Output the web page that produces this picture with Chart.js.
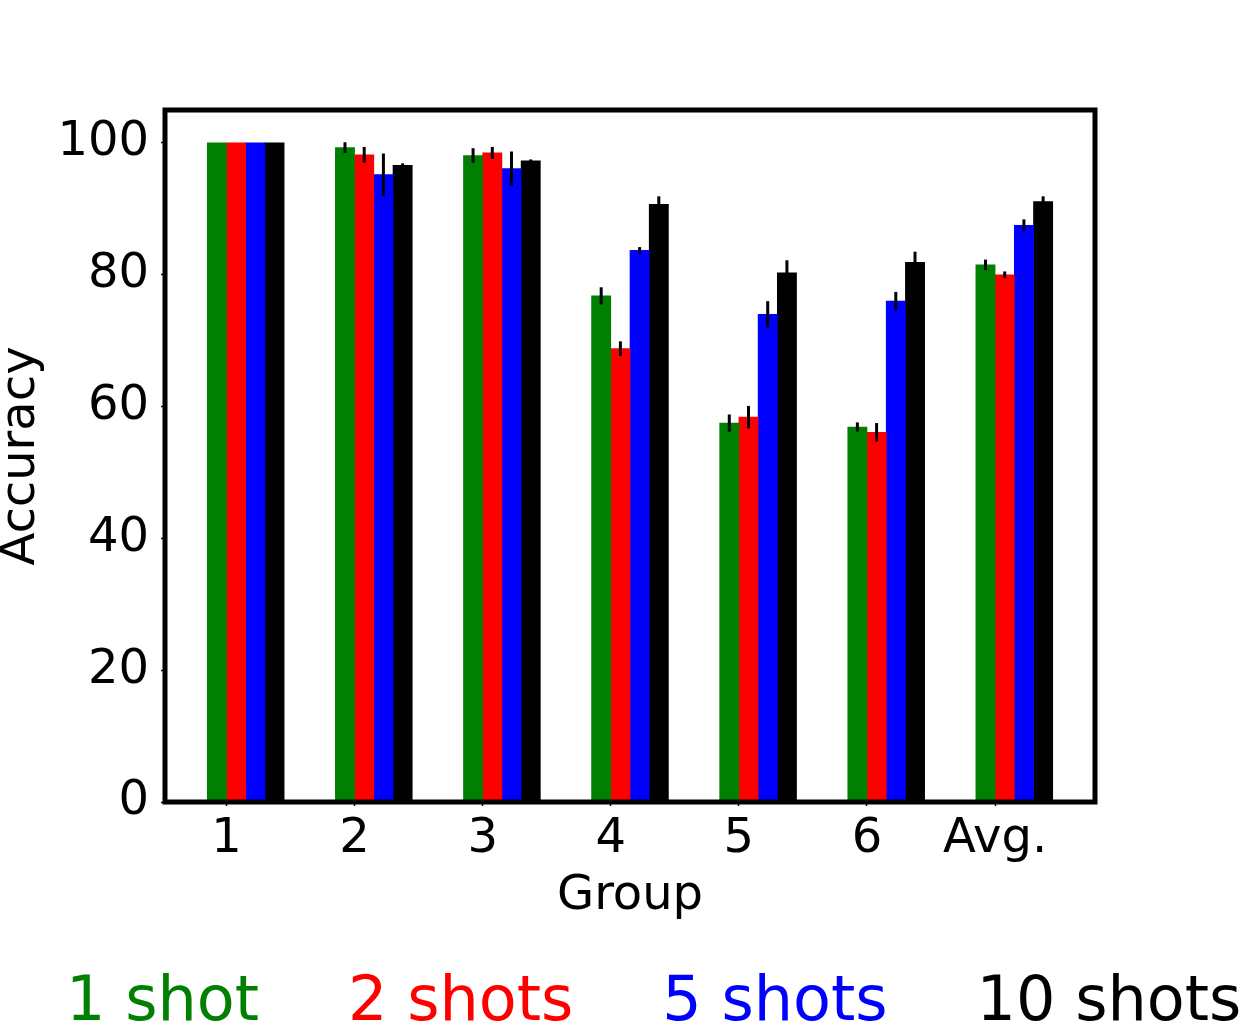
<!DOCTYPE html>
<html>
<head>
<meta charset="utf-8">
<script src="https://cdn.jsdelivr.net/npm/chart.js@4/dist/chart.umd.min.js"></script>
<style>
  body { margin: 0; background: #fff; }
  #wrap { position: relative; width: 1240px; height: 1024px; overflow: hidden; }
  #legend {
    position: absolute; left: 66px; top: 968px;
    display: flex; gap: 89px; white-space: nowrap;
    font-family: "DejaVu Sans", sans-serif; font-size: 62px; line-height: 62px;
  }
</style>
</head>
<body>
<div id="wrap">
  <canvas id="accChart"></canvas>
  <div id="legend"></div>
</div>
<script>
// Group labels and y ticks
var groups = ['1', '2', '3', '4', '5', '6', 'Avg.'];
var yTicks = [0, 20, 40, 60, 80, 100];

// Accuracy per group, with error bars
var oneShot      = [100, 99.3, 98.1, 76.8, 57.5, 56.9, 81.5];
var oneShotErr   = [0, 0.8, 1.1, 1.3, 1.3, 0.7, 0.8];
var twoShots     = [100, 98.2, 98.5, 68.8, 58.4, 56.1, 80.0];
var twoShotsErr  = [0, 1.2, 0.9, 1.1, 1.7, 1.4, 0.5];
var fiveShots    = [100, 95.2, 96.1, 83.7, 74.0, 76.0, 87.5];
var fiveShotsErr = [0, 3.2, 2.6, 0.5, 2.0, 1.4, 0.9];
var tenShots     = [100, 96.6, 97.3, 90.7, 80.3, 81.9, 91.1];
var tenShotsErr  = [0, 0.3, 0.2, 1.2, 1.9, 1.6, 0.8];

var seriesNames  = ['1 shot', '2 shots', '5 shots', '10 shots'];
var seriesColors = ['#008000', '#ff0000', '#0000ff', '#000000'];

// bar width 0.15 of a group step, bars placed right of the tick like matplotlib
var barW = 0.15;
var barOffsets = [-0.5 * barW, 0.5 * barW, 1.5 * barW, 2.5 * barW];

var allValues = [oneShot, twoShots, fiveShots, tenShots];
var allErrors = [oneShotErr, twoShotsErr, fiveShotsErr, tenShotsErr];

var datasets = allValues.map(function(vals, k) {
    return {
        label: seriesNames[k],
        data: vals.map(function(v, i) { return { x: i + barOffsets[k], y: v }; }),
        errors: allErrors[k],
        backgroundColor: seriesColors[k],
        borderWidth: 0,
        grouped: false,
        barPercentage: 1,
        categoryPercentage: 1
    };
});

// Error bars drawn over each bar
var errorBarPlugin = {
    id: 'errorBars',
    afterDatasetsDraw: function(chart) {
        var ctx = chart.ctx;
        var yScale = chart.scales.y;
        ctx.save();
        ctx.strokeStyle = '#000';
        ctx.lineWidth = 3;
        chart.data.datasets.forEach(function(ds, di) {
            var meta = chart.getDatasetMeta(di);
            meta.data.forEach(function(bar, i) {
                var e = ds.errors[i];
                if (!e) return;
                var v = ds.data[i].y;
                ctx.beginPath();
                ctx.moveTo(bar.x, yScale.getPixelForValue(v - e));
                ctx.lineTo(bar.x, yScale.getPixelForValue(v + e));
                ctx.stroke();
            });
        });
        ctx.restore();
    }
};

// Thick box around the plot area
var framePlugin = {
    id: 'frame',
    afterDatasetsDraw: function(chart) {
        var a = chart.chartArea;
        var ctx = chart.ctx;
        ctx.save();
        ctx.strokeStyle = '#000';
        ctx.lineWidth = 5;
        ctx.strokeRect(a.left, a.top, a.right - a.left, a.bottom - a.top);
        ctx.restore();
    }
};

var font = { family: '"DejaVu Sans", sans-serif', size: 48 };

new Chart(document.getElementById('accChart'), {
    type: 'bar',
    data: { datasets: datasets },
    plugins: [errorBarPlugin, framePlugin],
    options: {
        responsive: true,
        maintainAspectRatio: false,
        animation: false,
        layout: { padding: { top: 110, right: 145, left: 0, bottom: 0 } },
        plugins: { legend: { display: false }, tooltip: { enabled: false } },
        scales: {
            x: {
                type: 'linear',
                min: -0.48,
                max: 6.78,
                offset: false,
                afterFit: function(s) { s.height = 222; },
                afterBuildTicks: function(s) {
                    s.ticks = groups.map(function(g, i) { return { value: i }; });
                },
                ticks: {
                    color: '#000',
                    font: font,
                    padding: 5,
                    maxRotation: 0,
                    autoSkip: false,
                    callback: function(v) { return groups[v]; }
                },
                grid: { display: true, offset: false, drawOnChartArea: false, tickLength: 4, tickWidth: 1.5, tickColor: '#000' },
                border: { display: false },
                title: {
                    display: true, text: 'Group', color: '#000',
                    font: { family: font.family, size: 48, lineHeight: 1 },
                    padding: { top: 103, bottom: 103 }
                }
            },
            y: {
                min: 0,
                max: 105,
                afterFit: function(s) { s.width = 165; },
                afterBuildTicks: function(s) {
                    s.ticks = yTicks.map(function(v) { return { value: v }; });
                },
                ticks: { color: '#000', font: font, padding: 12 },
                grid: { display: true, drawOnChartArea: false, tickLength: 4, tickWidth: 1.5, tickColor: '#000' },
                border: { display: false },
                title: {
                    display: true, text: 'Accuracy', color: '#000',
                    font: { family: font.family, size: 48, lineHeight: 0.9 },
                    padding: { top: 0, bottom: 0 }
                }
            }
        }
    }
});

// Legend as coloured text only, no boxes
var legendEl = document.getElementById('legend');
seriesNames.forEach(function(name, k) {
    var span = document.createElement('span');
    span.textContent = name;
    span.style.color = seriesColors[k];
    legendEl.appendChild(span);
});
</script>
</body>
</html>
